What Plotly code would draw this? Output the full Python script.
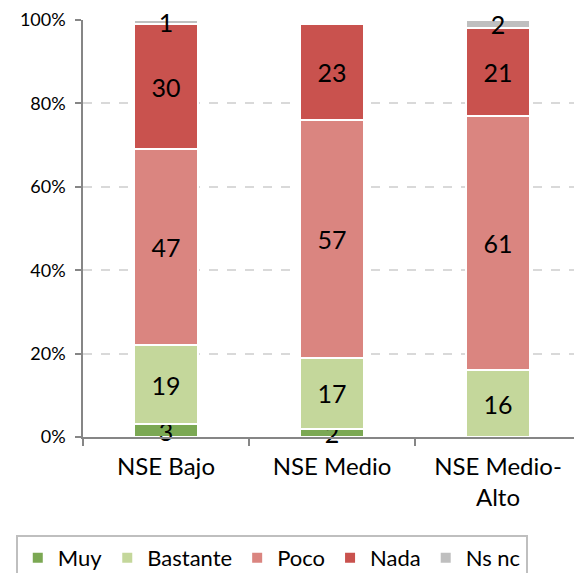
import plotly.graph_objects as go

categories = ["NSE Bajo", "NSE Medio", "NSE Medio-<br>Alto"]
series_names = ["Muy", "Bastante", "Poco", "Nada", "Ns nc"]
muy = [3, 2, 0]
bastante = [19, 17, 16]
poco = [47, 57, 61]
nada = [30, 23, 21]
nsnc = [1, 0, 2]
colors = ["#7BA853", "#C4D79B", "#DA8580", "#C9524E", "#BFBFBF"]
y_ticks = [0, 20, 40, 60, 80, 100]
y_tick_labels = ["0%", "20%", "40%", "60%", "80%", "100%"]

FONT = "Lato"
fig = go.Figure()
for name, vals, col in zip(series_names, [muy, bastante, poco, nada, nsnc], colors):
    fig.add_trace(go.Bar(
        name=name, x=categories, y=vals,
        marker=dict(color=col, line=dict(color="white", width=2)),
        text=[str(v) if v else "" for v in vals],
        textposition="inside", insidetextanchor="middle", textangle=0,
        textfont=dict(family=FONT, size=25, color="black"),
        constraintext="none", cliponaxis=False,
    ))

fig.update_layout(
    barmode="stack", bargap=0.62,
    width=582, height=573,
    margin=dict(l=75, r=9, t=12, b=144, autoexpand=False),
    plot_bgcolor="white", paper_bgcolor="white",
    font=dict(family=FONT, color="black"),
    uniformtext=dict(mode="show", minsize=25),
    showlegend=True,
    legend=dict(
        orientation="h", x=-0.135, xanchor="left", y=-0.235, yanchor="top",
        font=dict(family=FONT, size=22, color="black"),
        bordercolor="#BFBFBF", borderwidth=2, traceorder="normal",
        itemwidth=30,
    ),
    xaxis=dict(
        showline=True, linecolor="#868686", linewidth=1.5,
        ticks="outside", ticklen=7, tickcolor="#868686", tickwidth=1.5,
        tickson="boundaries", ticklabelstandoff=7, automargin=False,
        tickfont=dict(family=FONT, size=24, color="black"),
        showgrid=False,
    ),
    yaxis=dict(
        range=[0, 100], tickvals=y_ticks, ticktext=y_tick_labels,
        showline=True, linecolor="#868686", linewidth=1.5,
        ticks="outside", ticklen=6, tickcolor="#868686", tickwidth=1.5,
        ticklabelstandoff=6, automargin=False,
        tickfont=dict(family=FONT, size=18, color="black"),
        showgrid=True, gridcolor="#D9D9D9", griddash="dash", gridwidth=1.5,
        zeroline=False,
    ),
)
fig.write_html("out.html")
